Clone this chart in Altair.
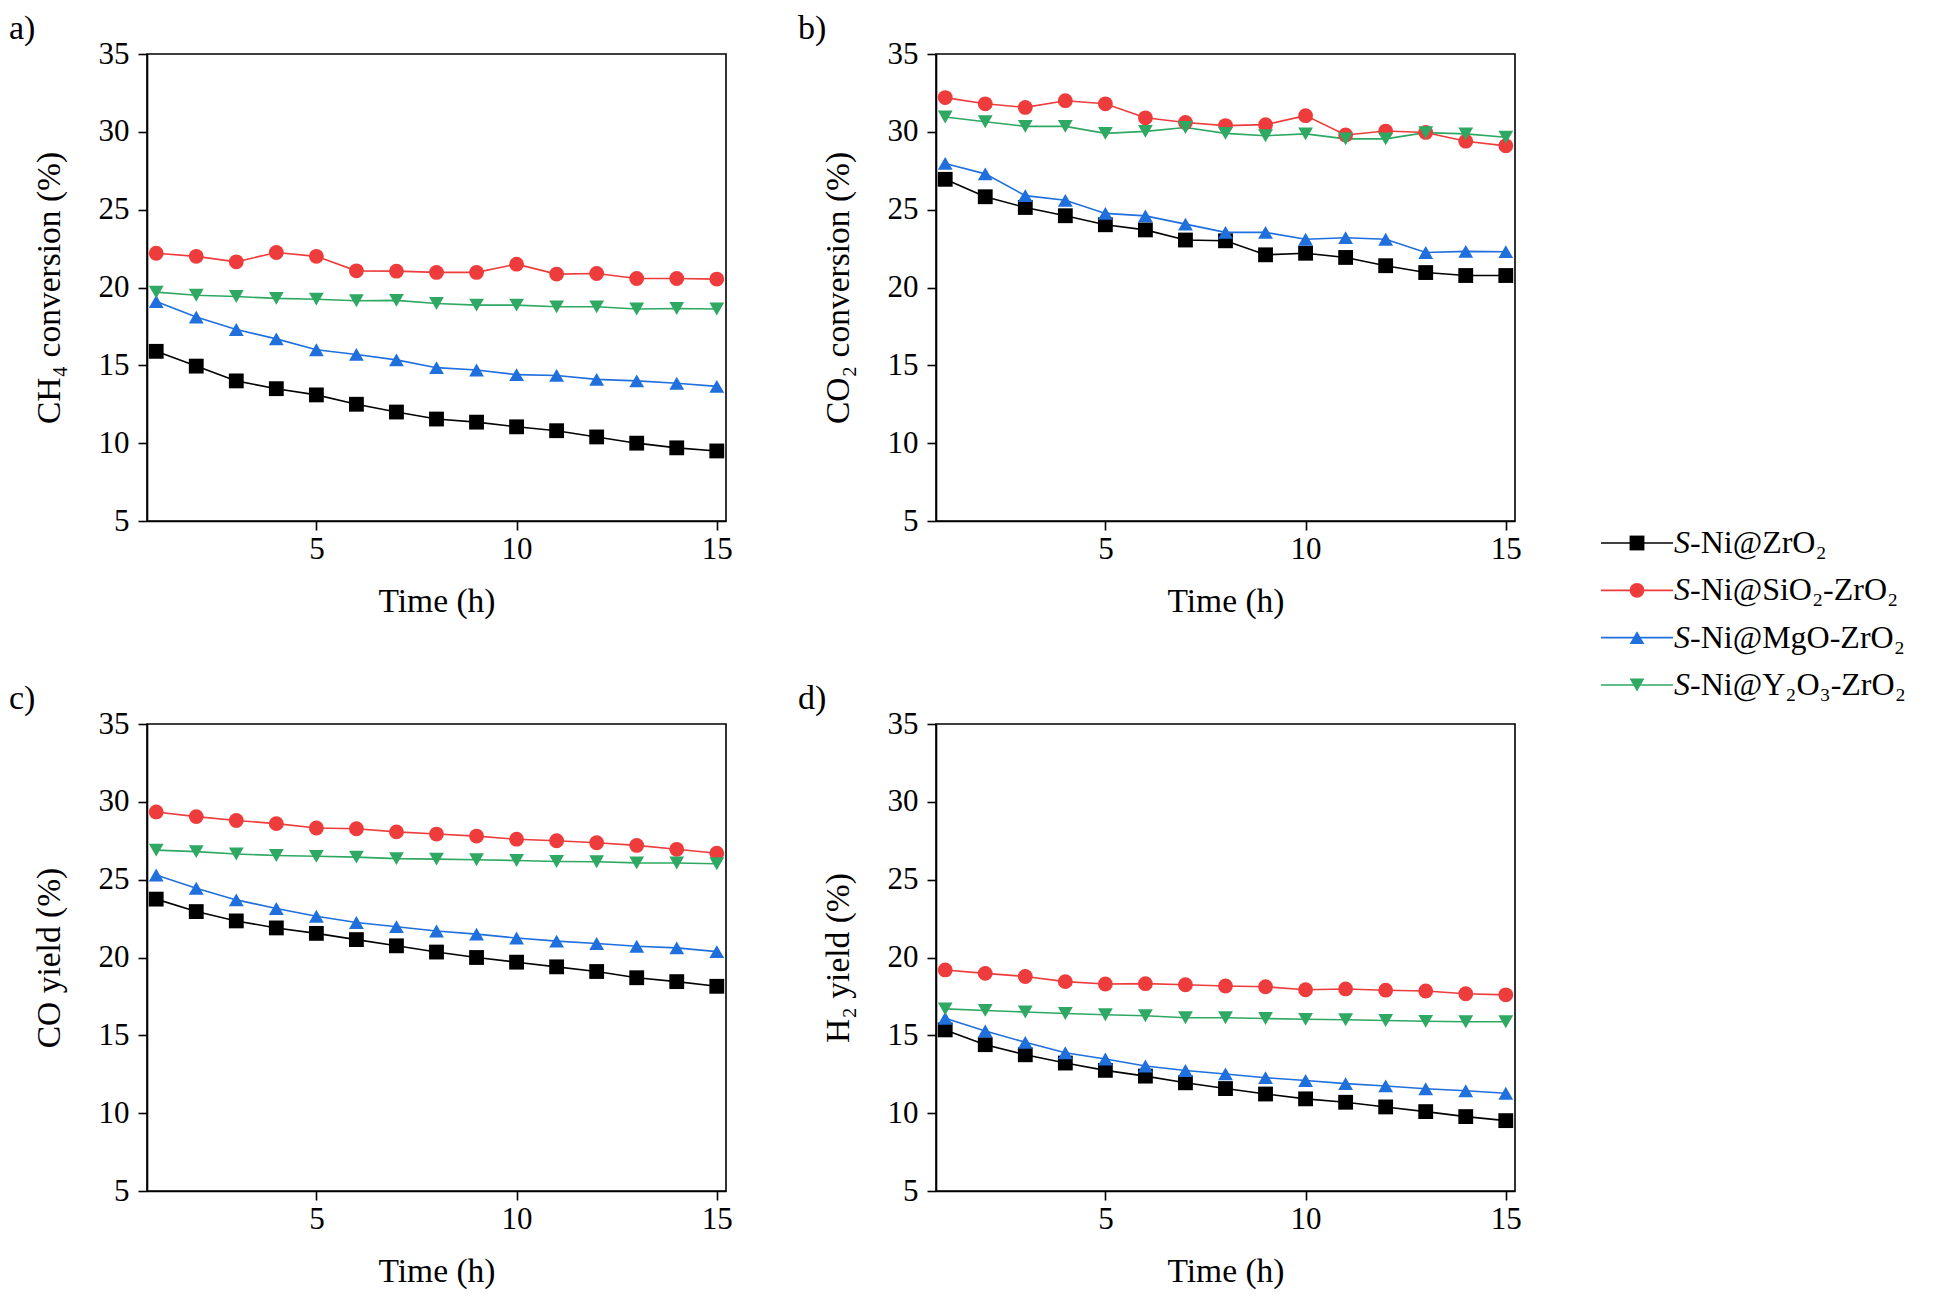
import altair as alt
import pandas as pd

# ---------------- data ----------------
time_h = list(range(1, 16))
series = ["S-Ni@ZrO2", "S-Ni@SiO2-ZrO2", "S-Ni@MgO-ZrO2", "S-Ni@Y2O3-ZrO2"]
legend_rest = ["-Ni@ZrO₂", "-Ni@SiO₂-ZrO₂", "-Ni@MgO-ZrO₂", "-Ni@Y₂O₃-ZrO₂"]
colors = ["#000000", "#EE3B3B", "#1F6FDD", "#2EA862"]
shapes = ["square", "circle", "triangle-up", "triangle-down"]

# a) CH4 conversion (%)
ch4_zro2 = [15.9, 14.95, 14.0, 13.5, 13.1, 12.5, 12.0, 11.55, 11.35, 11.05, 10.8, 10.4, 10.0, 9.7, 9.5]
ch4_sio2 = [22.2, 22.0, 21.65, 22.25, 22.0, 21.07, 21.05, 20.97, 20.97, 21.5, 20.86, 20.9, 20.58, 20.58, 20.54]
ch4_mgo = [19.1, 18.1, 17.3, 16.7, 16.0, 15.7, 15.35, 14.85, 14.7, 14.4, 14.35, 14.1, 14.0, 13.85, 13.65]
ch4_y2o3 = [19.7, 19.5, 19.42, 19.3, 19.25, 19.15, 19.17, 18.97, 18.87, 18.87, 18.76, 18.76, 18.62, 18.65, 18.62]

# b) CO2 conversion (%)
co2_zro2 = [26.95, 25.83, 25.14, 24.61, 24.03, 23.7, 23.05, 23.0, 22.1, 22.2, 21.93, 21.4, 20.96, 20.77, 20.77]
co2_sio2 = [32.2, 31.8, 31.57, 32.0, 31.8, 30.9, 30.6, 30.4, 30.46, 31.04, 29.8, 30.05, 29.96, 29.4, 29.1]
co2_mgo = [27.97, 27.3, 25.9, 25.6, 24.76, 24.6, 24.07, 23.54, 23.54, 23.1, 23.2, 23.1, 22.25, 22.32, 22.3]
co2_y2o3 = [30.95, 30.65, 30.35, 30.35, 29.9, 30.03, 30.28, 29.9, 29.75, 29.87, 29.55, 29.55, 29.95, 29.87, 29.65]

# c) CO yield (%)
co_zro2 = [23.75, 22.95, 22.35, 21.9, 21.55, 21.15, 20.75, 20.35, 20.0, 19.7, 19.4, 19.1, 18.7, 18.45, 18.15]
co_sio2 = [29.35, 29.05, 28.8, 28.6, 28.32, 28.27, 28.07, 27.93, 27.8, 27.6, 27.5, 27.37, 27.2, 26.95, 26.7]
co_mgo = [25.3, 24.45, 23.7, 23.15, 22.65, 22.25, 21.98, 21.7, 21.5, 21.25, 21.05, 20.9, 20.72, 20.62, 20.38]
co_y2o3 = [26.9, 26.8, 26.65, 26.55, 26.5, 26.45, 26.35, 26.32, 26.28, 26.23, 26.17, 26.15, 26.08, 26.07, 26.02]

# d) H2 yield (%)
h2_zro2 = [15.35, 14.4, 13.75, 13.22, 12.75, 12.38, 11.95, 11.58, 11.23, 10.92, 10.7, 10.4, 10.1, 9.78, 9.52]
h2_sio2 = [19.2, 18.98, 18.78, 18.45, 18.3, 18.32, 18.25, 18.17, 18.12, 17.93, 17.98, 17.9, 17.85, 17.67, 17.6]
h2_mgo = [16.1, 15.28, 14.55, 13.88, 13.48, 13.03, 12.74, 12.52, 12.28, 12.1, 11.9, 11.75, 11.57, 11.44, 11.28]
h2_y2o3 = [16.7, 16.6, 16.5, 16.4, 16.32, 16.26, 16.13, 16.13, 16.08, 16.03, 16.0, 15.95, 15.9, 15.87, 15.87]

y_ticks = [5, 10, 15, 20, 25, 30, 35]
x_ticks = [5, 10, 15]

FONT = "Liberation Serif"
W, H = 579, 467
MSIZE = 220

color_scale = alt.Scale(domain=series, range=colors)
shape_scale = alt.Scale(domain=series, range=shapes)


def make_df(vals):
    rows = []
    for name, ys in zip(series, vals):
        for t, v in zip(time_h, ys):
            rows.append({"time": t, "value": v, "series": name})
    return pd.DataFrame(rows)


def data_layer(ytitle, vals):
    df = make_df(vals)
    base = alt.Chart(df).encode(
        x=alt.X("time:Q",
                scale=alt.Scale(domain=[0.77, 15.23], nice=False, zero=False),
                axis=alt.Axis(values=x_ticks, title="Time (h)", format="d")),
        y=alt.Y("value:Q",
                scale=alt.Scale(domain=[5, 35], nice=False, zero=False),
                axis=alt.Axis(values=y_ticks, title=ytitle, format="d")),
        color=alt.Color("series:N", scale=color_scale, legend=None),
    )
    line = base.mark_line(strokeWidth=1.6)
    pts = base.mark_point(filled=True, size=MSIZE, opacity=1).encode(
        shape=alt.Shape("series:N", scale=shape_scale, legend=None))
    return alt.layer(line, pts)


def finish(ch, label):
    return ch.properties(
        width=W, height=H,
        title=alt.TitleParams(text=label, anchor="start", frame="group", dx=-138,
                              font=FONT, fontSize=34, fontWeight="normal",
                              color="black", offset=-8),
        view=alt.ViewBackground(stroke="black", strokeWidth=1.6),
    )


# ---------------- custom legend (drawn to the right of panel b) ----------------
LX = W + 86  # legend line start, px right of panel b's plot origin
leg_df = pd.DataFrame({"series": series, "rest": legend_rest})
leg_y = alt.Y("series:N",
              scale=alt.Scale(type="point", domain=series, range=[489, 631], padding=0),
              axis=None)
leg_color = alt.Color("series:N", scale=color_scale, legend=None)
leg_base = alt.Chart(leg_df)
leg_rule = leg_base.mark_rule(strokeWidth=1.6).encode(
    x=alt.value(LX), x2=alt.value(LX + 72), y=leg_y, color=leg_color)
leg_pts = leg_base.mark_point(filled=True, size=MSIZE, opacity=1).encode(
    x=alt.value(LX + 36), y=leg_y, color=leg_color,
    shape=alt.Shape("series:N", scale=shape_scale, legend=None))
leg_s = leg_base.mark_text(align="left", baseline="middle", font=FONT, fontSize=32,
                           fontStyle="italic", color="black").encode(
    x=alt.value(LX + 73), y=leg_y, text=alt.value("S"))
leg_txt = leg_base.mark_text(align="left", baseline="middle", font=FONT, fontSize=32,
                             color="black").encode(
    x=alt.value(LX + 89), y=leg_y, text="rest:N")
legend_layer = alt.layer(leg_rule, leg_pts, leg_s, leg_txt)

pa = finish(data_layer("CH₄ conversion (%)", [ch4_zro2, ch4_sio2, ch4_mgo, ch4_y2o3]), "a)")
pb = finish(alt.layer(data_layer("CO₂ conversion (%)", [co2_zro2, co2_sio2, co2_mgo, co2_y2o3]),
                      legend_layer).resolve_scale(y="independent"), "b)")
pc = finish(data_layer("CO yield (%)", [co_zro2, co_sio2, co_mgo, co_y2o3]), "c)")
pd_ = finish(data_layer("H₂ yield (%)", [h2_zro2, h2_sio2, h2_mgo, h2_y2o3]), "d)")

chart = alt.concat(pa, pb, pc, pd_, columns=2,
                   spacing={"row": 203, "column": 210}, bounds="flush").properties(
    padding={"top": 3, "left": 0, "right": 5, "bottom": 5}
).configure_view(
    stroke="transparent"
).configure_axis(
    labelFont=FONT, titleFont=FONT, labelFontSize=31, titleFontSize=33.5,
    labelColor="black", titleColor="black", titleFontWeight="normal",
    domainColor="black", tickColor="black", domainWidth=1.6, tickWidth=1.6,
    tickSize=9, grid=False, labelFlush=False, labelOverlap=False,
).configure_axisY(
    labelPadding=9, titlePadding=32
).configure_axisX(
    labelPadding=4, titlePadding=21
)

chart.save("out.html", embed_options={"renderer": "svg", "actions": False})
